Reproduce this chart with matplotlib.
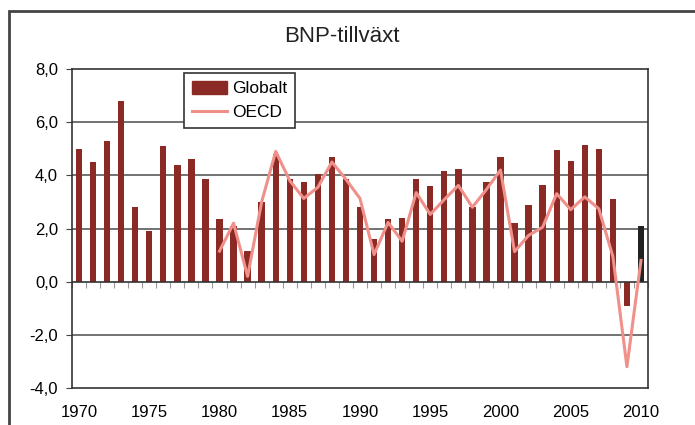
import numpy as np
import matplotlib.pyplot as plt
from matplotlib.patches import Rectangle

plt.rcParams['font.family'] = ['Liberation Sans', 'DejaVu Sans']

# BNP-tillväxt, procent per år
years = list(range(1970, 2011))
globalt = [5.0, 4.5, 5.3, 6.8, 2.8, 1.9, 5.1, 4.4, 4.6, 3.85,
           2.35, 2.1, 1.15, 3.0, 4.8, 3.85, 3.75, 4.05, 4.7, 3.85,
           2.8, 1.6, 2.35, 2.4, 3.85, 3.6, 4.15, 4.25, 2.8, 3.75,
           4.7, 2.2, 2.9, 3.65, 4.95, 4.55, 5.15, 5.0, 3.1, -0.92,
           2.1]
oecd_years = list(range(1980, 2011))
oecd = [1.15, 2.2, 0.2, 3.0, 4.9, 3.8, 3.13, 3.55, 4.5, 3.85,
        3.13, 1.02, 2.23, 1.52, 3.35, 2.53, 3.09, 3.62, 2.8, 3.47,
        4.2, 1.13, 1.74, 2.05, 3.31, 2.71, 3.19, 2.74, 0.95, -3.2,
        0.8]
yticks = [-4, -2, 0, 2, 4, 6, 8]
xlabels = [1970, 1975, 1980, 1985, 1990, 1995, 2000, 2005, 2010]

fig = plt.figure(figsize=(6.95, 4.25), dpi=100)
ax = fig.add_axes([72 / 695, 1 - 388 / 425, 576 / 695, 319 / 425])

# yttre ram
fig.patches.append(Rectangle((9 / 695, -0.1), 1.2, 1 - 11 / 425 + 0.1,
                             transform=fig.transFigure, fill=False,
                             edgecolor='#444444', linewidth=2))

for v in yticks:
    if v not in (0, 8, -4):
        ax.axhline(v, color='#5a5a5a', linewidth=1.2, zorder=1)

colors = ['#8b2a24'] * (len(years) - 1) + ['#222222']
bars = ax.bar(years, globalt, width=0.45, color=colors, zorder=2)
line, = ax.plot(oecd_years, oecd, color='#f0908a', linewidth=2.2, zorder=3)
ax.axhline(0, color='#333333', linewidth=1.2, zorder=2.5)

ax.set_xlim(1969.5, 2010.5)
ax.set_ylim(-4, 8)
ax.set_yticks(yticks)
ax.set_yticklabels([f'{v:.1f}'.replace('.', ',') for v in yticks], fontsize=12)
ax.tick_params(axis='y', length=4, color='#444444', pad=6)
ax.set_xticks(xlabels)
ax.set_xticklabels([str(x) for x in xlabels], fontsize=12)
ax.tick_params(axis='x', length=0, pad=12)
for s in ax.spines.values():
    s.set_color('#333333')
    s.set_linewidth(1.2)

# små streck längs nollinjen
zero_ax = ax.secondary_xaxis(1 / 3)
zero_ax.set_xticks(np.arange(1969.5, 2011, 1.0))
zero_ax.set_xticklabels([])
zero_ax.tick_params(length=4, color='#999999', direction='out')
zero_ax.spines['bottom'].set_visible(False)

fig.text(342 / 695, 1 - 37 / 425, 'BNP-tillväxt', fontsize=16,
         ha='center', va='center', color='#222222')

bar_handle = Rectangle((0, 0), 1, 1, color='#8b2a24')
leg = ax.legend([bar_handle, line], ['Globalt', 'OECD'],
                loc='upper left', bbox_to_anchor=(112 / 576, 1 - 4 / 319),
                fontsize=12.5, frameon=True, fancybox=False, framealpha=1,
                edgecolor='#333333', handlelength=2.0, handleheight=0.8,
                handletextpad=0.3, borderpad=0.45, labelspacing=0.45,
                borderaxespad=0)
leg.get_frame().set_linewidth(1.2)

fig.savefig('out.png', dpi=100)
